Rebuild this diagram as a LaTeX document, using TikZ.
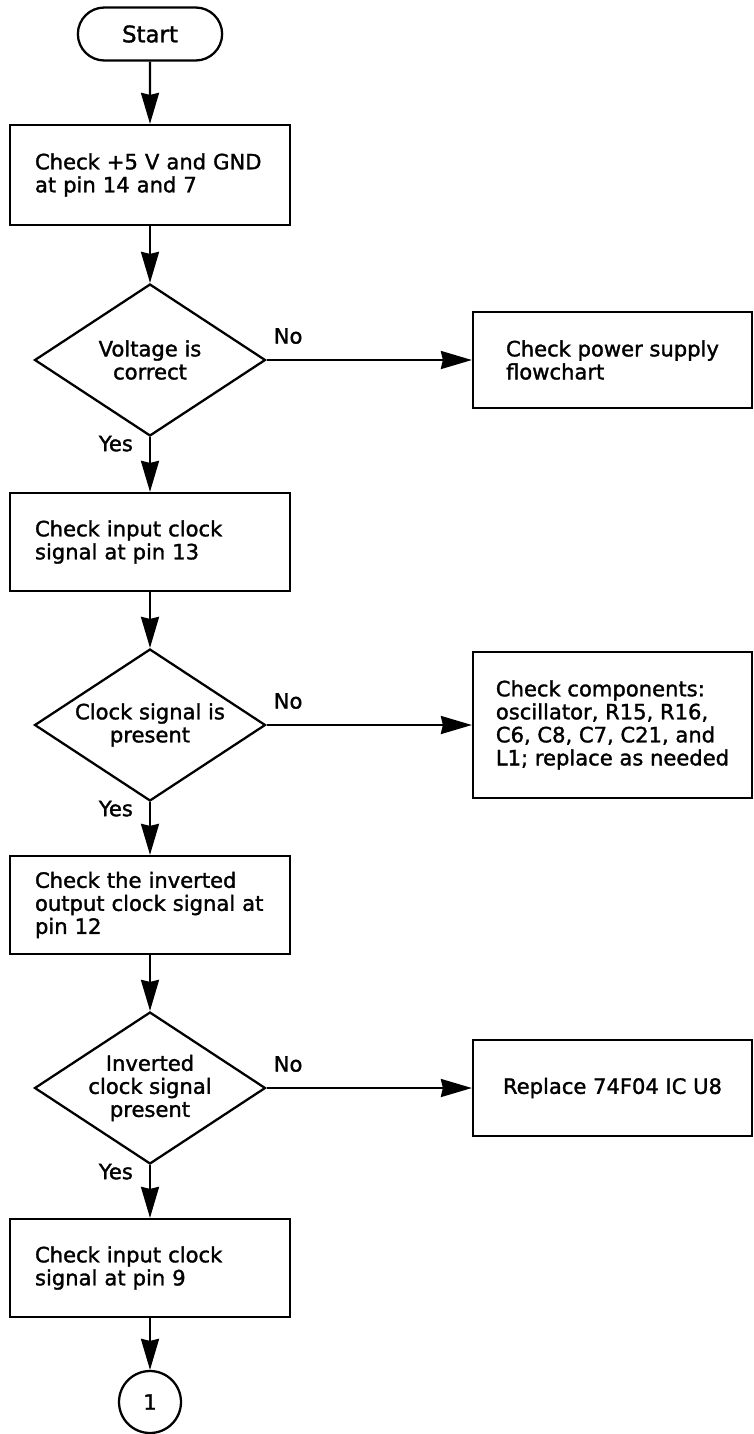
\documentclass[tikz,border=0pt]{standalone}
\usepackage{fontspec}
\setmainfont{DejaVu Sans}[FakeBold = 1.5]
\usetikzlibrary{arrows.meta, shapes.geometric, shapes.misc}

\begin{document}
\begin{tikzpicture}[
    x = 0.02cm, y = -0.02cm,
    line width = 1.3pt,
    > = {Stealth[length = 0.62cm, width = 0.36cm, inset = 0.04cm]},
    font = \fontsize{12}{13.1}\selectfont,
    %
    terminal/.style = {draw, rounded rectangle,
      minimum width = 3.12cm, minimum height = 1.06cm},
    %
    process/.style = {draw, align = left,
      text width = 4.6cm, inner xsep = 0.5cm,
      minimum height = 1.96cm},
    %
    decision/.style = {draw, diamond, align = center,
      aspect = 1.52, inner sep = 0pt,
      minimum width = 4.62cm, minimum height = 3.04cm},
    %
    action/.style = {draw, align = left,
      minimum width = 5.58cm, minimum height = 1.92cm},
    %
    connector/.style = {draw, circle, minimum size = 1.24cm},
    %
    nolab/.style = {pos = 0, anchor = south west, inner sep = 0pt,
      xshift = 0.12cm, yshift = 0.3cm},
    yeslab/.style = {pos = 0, anchor = north east, inner sep = 0pt,
      xshift = -0.32cm, yshift = 0.05cm},
    ]

    \useasboundingbox (0, 0) rectangle (754, 1434);

    \node at (150, 34)
    [terminal, font = \fontsize{13}{14}\selectfont, name = start] {Start};

    \node at (150, 175)
    [process, minimum height = 2cm, name = chk_volt]
    {Check +5 V and GND\\at pin 14 and 7};

    \node at (150, 360)
    [decision, name = volt_ok] {Voltage is\\correct};
    \node at (612.5, 360)
    [action, name = psu] {Check power supply\\flowchart};

    \node at (150, 542)
    [process, name = chk_in13] {Check input clock\\signal at pin 13};

    \node at (150, 725)
    [decision, name = clk_ok] {Clock signal is\\present};
    \node at (612.5, 725)
    [action, minimum height = 2.92cm, name = parts]
    {Check components:\\oscillator, R15, R16,\\C6, C8, C7, C21, and\\L1; replace as needed};

    \node at (150, 905)
    [process, name = chk_out12]
    {Check the inverted\\output clock signal at\\pin 12};

    \node at (150, 1088)
    [decision, name = inv_ok] {Inverted\\clock signal\\present};
    \node at (612.5, 1088)
    [action, name = u8] {Replace 74F04 IC U8};

    \node at (150, 1268)
    [process, name = chk_in9] {Check input clock\\signal at pin 9};

    \node at (150, 1402)
    [connector, name = cont] {1};

    \draw [->] (start) to (chk_volt);
    \draw [->] (chk_volt) to (volt_ok);

    \draw [->] (volt_ok) to node [nolab] {No} (psu);
    \draw [->] (volt_ok) to node [yeslab] {Yes} (chk_in13);

    \draw [->] (chk_in13) to (clk_ok);

    \draw [->] (clk_ok) to node [nolab] {No} (parts);
    \draw [->] (clk_ok) to node [yeslab] {Yes} (chk_out12);

    \draw [->] (chk_out12) to (inv_ok);

    \draw [->] (inv_ok) to node [nolab] {No} (u8);
    \draw [->] (inv_ok) to node [yeslab] {Yes} (chk_in9);

    \draw [->] (chk_in9) to (cont);

  \end{tikzpicture}
\end{document}
